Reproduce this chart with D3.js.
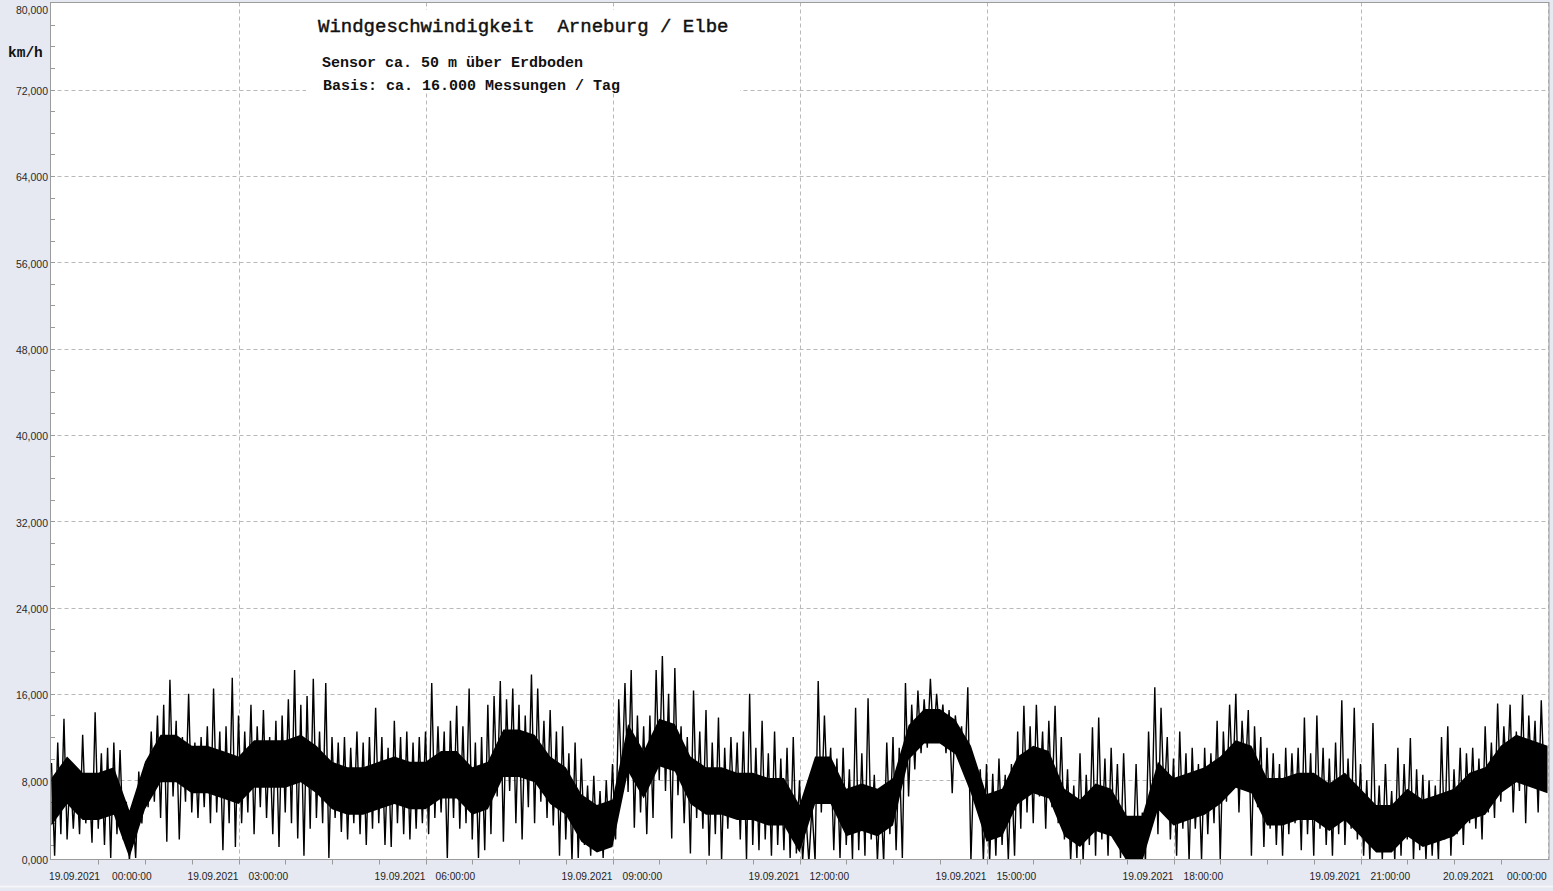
<!DOCTYPE html>
<html><head><meta charset="utf-8">
<script src="https://cdn.jsdelivr.net/npm/d3@7/dist/d3.min.js"></script>
<style>
html,body{margin:0;padding:0;background:#e6e9f1;}
svg{display:block;}
</style></head>
<body>
<svg id="chart" width="1553" height="891"></svg>
<script>
// ---------- data ----------
const title = "Windgeschwindigkeit  Arneburg / Elbe";
const subtitle1 = "Sensor ca. 50 m über Erdboden";
const subtitle2 = "Basis: ca. 16.000 Messungen / Tag";
const unitLabel = "km/h";
const yTicks = [0, 8, 16, 24, 32, 40, 48, 56, 64, 72, 80];
const xTickHours = [0, 3, 6, 9, 12, 15, 18, 21, 24];
const xTickDates = ["19.09.2021","19.09.2021","19.09.2021","19.09.2021","19.09.2021","19.09.2021","19.09.2021","19.09.2021","20.09.2021"];
const xTickTimes = ["00:00:00","03:00:00","06:00:00","09:00:00","12:00:00","15:00:00","18:00:00","21:00:00","00:00:00"];
// wind speed (km/h), local peaks every 6 min (starting 00:00) and troughs 3 min later
const peakKmh = [
 9.6,11.5,13.7,9.0,8.8,12.2,8.5,14.3,10.5,11.0,11.5,10.8,6.0,5.5,8.8,9.5,12.5,14.0,15.0,17.3,13.5,12.0,16.0,11.5,12.0,13.0,16.5,12.5,13.0,17.5,
 14.0,12.5,15.0,13.0,14.5,12.0,13.5,14.0,15.5,18.2,15.0,15.8,17.4,12.5,17.0,12.0,11.5,12.0,11.0,12.5,11.5,12.0,14.7,12.0,11.0,13.5,12.0,12.5,11.5,12.0,
 12.5,17.0,13.0,12.5,13.5,14.9,13.0,16.5,11.5,12.0,15.0,15.8,17.2,15.5,16.5,15.0,14.0,17.8,16.5,13.5,14.5,12.5,13.0,10.5,11.5,10.0,7.5,8.4,7.0,8.0,
 9.5,15.5,17.0,18.2,14.0,13.0,14.0,18.2,19.5,16.0,18.4,13.0,12.0,16.3,12.5,14.5,11.5,13.8,11.0,12.0,11.5,12.5,16.0,11.0,13.5,10.5,12.5,10.0,11.0,12.0,
 8.0,5.0,5.5,17.2,14.0,11.0,10.0,11.0,9.0,14.7,10.5,15.6,8.5,7.0,11.5,12.0,11.0,17.0,15.0,16.3,15.5,17.4,16.0,15.0,14.5,14.0,13.0,16.6,10.0,9.0,
 9.5,8.6,10.0,8.5,9.5,12.5,14.9,13.0,15.0,12.5,13.5,14.9,12.0,9.0,7.5,10.5,8.5,12.9,13.8,10.0,11.0,9.5,10.5,4.5,9.5,5.0,12.5,16.6,14.7,12.0,
 10.0,12.5,10.5,11.0,9.5,11.0,10.5,13.5,12.5,15.0,16.0,13.5,14.5,13.0,12.0,11.0,10.5,9.5,11.0,10.5,11.0,13.8,10.5,14.0,11.0,10.0,11.5,15.4,10.0,14.7,
 9.5,8.0,13.3,7.5,9.5,7.0,11.0,9.5,11.9,9.0,8.5,8.0,7.5,12.0,13.0,9.0,11.0,10.5,11.0,10.0,13.0,11.5,15.1,13.0,15.0,12.5,15.9,14.0,13.5,15.4
];
const troughKmh = [
 1.0,3.0,2.5,3.5,3.0,4.0,2.2,3.5,2.0,0.8,3.0,2.5,0.5,0.8,4.0,5.5,6.0,4.5,2.3,6.5,2.5,6.0,5.0,4.5,5.5,4.0,5.0,1.5,4.0,1.8,
 4.0,5.0,3.0,5.5,4.5,3.0,1.8,5.0,4.0,2.6,1.0,3.5,4.5,4.0,0.8,4.5,3.2,2.5,4.0,3.0,2.0,3.5,4.0,2.0,1.8,4.0,3.0,2.5,3.5,4.0,
 3.0,4.5,5.0,0.8,4.5,3.5,4.0,2.5,0.8,1.5,3.0,6.5,2.3,7.0,4.0,2.5,5.5,4.0,6.0,4.5,3.8,1.0,2.5,0.5,0.8,2.0,1.0,1.5,0.8,2.0,
 2.5,7.5,6.9,3.6,5.0,3.0,4.5,8.0,7.0,2.6,6.6,4.0,1.2,4.5,3.5,1.0,3.0,0.5,3.5,4.5,2.5,0.6,2.0,1.5,2.5,1.0,2.0,1.5,0.8,1.2,
 0.5,0.4,0.5,5.0,6.0,1.5,0.8,2.0,0.7,1.5,1.0,2.5,0.5,0.4,3.0,1.5,0.8,6.5,9.0,10.5,11.0,11.5,12.0,10.5,6.8,11.0,8.5,0.5,6.0,0.5,
 0.5,1.0,2.0,0.6,1.0,3.5,5.0,4.0,6.5,3.5,5.5,4.0,2.5,0.5,0.8,0.5,2.0,1.0,2.5,1.0,2.5,0.8,2.0,0.5,0.4,0.5,4.0,3.0,6.0,2.5,
 1.0,3.5,0.5,3.5,0.6,3.0,4.0,0.6,6.0,7.5,5.0,8.0,1.0,5.5,1.8,3.5,2.0,1.0,3.0,4.0,1.5,3.0,1.0,3.5,2.0,1.0,3.0,2.0,3.5,2.5,
 1.0,0.5,1.5,0.6,2.0,0.5,1.0,2.5,0.5,1.5,0.6,1.0,0.5,2.5,1.0,3.0,2.0,4.0,3.5,2.5,5.0,4.5,6.0,7.5,5.0,7.0,4.0,7.5,5.0,7.0
];
// dense core of the signal (km/h), every 15 min from 00:00 to 24:00
const coreLowKmh = [
 3.8,5.8,4.3,4.3,4.8,0.8,5.3,7.8,7.8,6.8,6.8,6.3,
 5.8,7.3,7.3,7.3,7.8,6.8,5.3,4.8,4.8,5.3,5.8,5.3,
 5.3,6.3,6.3,4.8,5.3,8.3,8.3,7.8,5.8,4.8,2.3,1.3,
 1.8,8.8,6.3,9.3,8.8,5.8,4.8,4.8,4.3,4.3,3.8,3.8,
 1.3,5.8,5.8,2.8,3.3,2.8,3.8,9.9,11.4,11.4,10.4,6.8,
 2.3,2.8,5.8,6.8,6.3,2.8,1.8,3.3,2.8,0.5,0.5,5.3,
 3.8,4.3,4.8,5.8,7.3,6.8,3.8,3.8,4.3,4.3,3.3,4.3,
 2.8,1.3,1.3,2.8,1.8,2.3,2.8,4.3,4.8,6.8,7.8,7.3,
 6.8];
const coreHighKmh = [
 8.2,10.2,8.7,8.7,9.2,5.2,9.7,12.2,12.2,11.2,11.2,10.7,
 10.2,11.7,11.7,11.7,12.2,11.2,9.7,9.2,9.2,9.7,10.2,9.7,
 9.7,10.7,10.7,9.2,9.7,12.7,12.7,12.2,10.2,9.2,6.7,5.7,
 6.2,13.2,10.7,13.7,13.2,10.2,9.2,9.2,8.7,8.7,8.2,8.2,
 5.7,10.2,10.2,7.2,7.7,7.2,8.2,13.1,14.6,14.6,13.6,11.2,
 6.7,7.2,10.2,11.2,10.7,7.2,6.2,7.7,7.2,4.7,4.7,9.7,
 8.2,8.7,9.2,10.2,11.7,11.2,8.2,8.2,8.7,8.7,7.7,8.7,
 7.2,5.7,5.7,7.2,6.2,6.7,7.2,8.7,9.2,11.2,12.2,11.7,
 11.2];

// ---------- layout ----------
const svg = d3.select("#chart");
const W = 1553, H = 891;
const plot = {left: 50.5, right: 1549, top: 2.5, bottom: 859.5};

const x = d3.scaleLinear().domain([0, 24 * 60]).range([51.5, 1547.5]);
const y = d3.scaleLinear().domain([0, 80]).range([866.5, 3.3]);

// plot background
svg.append("rect").attr("x", plot.left).attr("y", plot.top)
  .attr("width", plot.right - plot.left).attr("height", plot.bottom - plot.top)
  .attr("fill", "#ffffff");

svg.append("line").attr("x1", 0).attr("x2", W).attr("y1", 886.5).attr("y2", 886.5)
  .attr("stroke", "#f4f5f9").attr("stroke-width", 2);

// grid
const grid = svg.append("g").attr("stroke", "#b9b9b9").attr("stroke-dasharray", "4,3").attr("stroke-width", 1);
yTicks.filter(v => v > 0 && v < 80).forEach(v => {
  grid.append("line").attr("x1", plot.left).attr("x2", plot.right)
    .attr("y1", Math.round(y(v)) + 0.5).attr("y2", Math.round(y(v)) + 0.5);
});
xTickHours.filter(h => h > 0).forEach(h => {
  grid.append("line").attr("y1", plot.top).attr("y2", plot.bottom)
    .attr("x1", Math.round(x(h * 60)) + 0.5).attr("x2", Math.round(x(h * 60)) + 0.5);
});

// minor ticks
const ticks = svg.append("g").attr("stroke", "#9a9a9a").attr("stroke-width", 1);
d3.range(2, 80, 2).forEach(v => {
  ticks.append("line").attr("x1", plot.left).attr("x2", plot.left + 4.5)
    .attr("y1", Math.round(y(v)) + 0.5).attr("y2", Math.round(y(v)) + 0.5);
});
d3.range(45, 24 * 60, 45).forEach(m => {
  ticks.append("line").attr("y1", plot.bottom).attr("y2", plot.bottom + 5)
    .attr("x1", Math.round(x(m)) + 0.5).attr("x2", Math.round(x(m)) + 0.5);
});

// data
svg.append("clipPath").attr("id", "clip").append("rect")
  .attr("x", plot.left).attr("y", plot.top)
  .attr("width", plot.right - plot.left).attr("height", plot.bottom - plot.top - 0.5);
const dataG = svg.append("g").attr("clip-path", "url(#clip)");

const core = coreLowKmh.map((lo, i) => ({t: i * 15, lo: lo, hi: coreHighKmh[i]}));
dataG.append("path").datum(core)
  .attr("d", d3.area().x(d => x(d.t)).y0(d => y(d.lo)).y1(d => y(d.hi)))
  .attr("fill", "#000");

const series = [];
peakKmh.forEach((p, i) => {
  series.push({t: i * 6, v: p});
  series.push({t: i * 6 + 3, v: troughKmh[i]});
});
const line = d3.line().x(d => x(d.t)).y(d => y(d.v));
dataG.append("path").datum(series)
  .attr("d", line).attr("fill", "none").attr("stroke", "#000").attr("stroke-width", 1.4)
  .attr("stroke-linejoin", "miter");

// text box behind title
svg.append("rect").attr("x", 306).attr("y", 10).attr("width", 434).attr("height", 83).attr("fill", "#fff");

// plot border
svg.append("rect").attr("x", plot.left).attr("y", plot.top)
  .attr("width", plot.right - plot.left).attr("height", plot.bottom - plot.top)
  .attr("fill", "none").attr("stroke", "#9c9c9c");

// y labels
const fmt = v => d3.format(".3f")(v).replace(".", ",");
svg.append("g").selectAll("text").data(yTicks).join("text")
  .attr("x", 48).attr("y", v => Math.max(10, Math.min(860, y(v) + 1.5)))
  .attr("text-anchor", "end").attr("dominant-baseline", "central")
  .attr("font-family", "Liberation Sans, Arial, sans-serif").attr("font-size", 10.5)
  .attr("fill", "#2a2a2a").text(fmt);

// x labels
const xl = svg.append("g").attr("font-family", "Liberation Sans, Arial, sans-serif")
  .attr("font-size", 10.2).attr("fill", "#1e1e1e");
xTickHours.forEach((h, i) => {
  const gx = x(h * 60);
  let dateEnd = gx, timeStart = gx + 10;
  if (i === 0) { dateEnd = 100; timeStart = 112; }
  if (i === xTickHours.length - 1) { timeStart = 1507; dateEnd = 1494; }
  xl.append("text").attr("x", dateEnd).attr("y", 880).attr("text-anchor", "end").text(xTickDates[i]);
  xl.append("text").attr("x", timeStart).attr("y", 880).attr("text-anchor", "start").text(xTickTimes[i]);
});

// unit
svg.append("text").attr("x", 8).attr("y", 57).attr("font-family", "Liberation Mono, Courier New, monospace")
  .attr("font-weight", "bold").attr("font-size", 14.5).attr("fill", "#111").text(unitLabel);

// titles
svg.append("text").attr("x", 318).attr("y", 32).attr("font-family", "Liberation Mono, Courier New, monospace")
  .attr("font-size", 19).attr("fill", "#111").attr("stroke", "#111").attr("stroke-width", 0.45)
  .attr("xml:space", "preserve").style("white-space", "pre").text(title);
svg.append("text").attr("x", 322).attr("y", 67).attr("font-family", "Liberation Mono, Courier New, monospace")
  .attr("font-size", 15).attr("font-weight", "bold").attr("fill", "#111").text(subtitle1);
svg.append("text").attr("x", 323).attr("y", 89.5).attr("font-family", "Liberation Mono, Courier New, monospace")
  .attr("font-size", 15).attr("font-weight", "bold").attr("fill", "#111").text(subtitle2);
</script>
</body></html>
